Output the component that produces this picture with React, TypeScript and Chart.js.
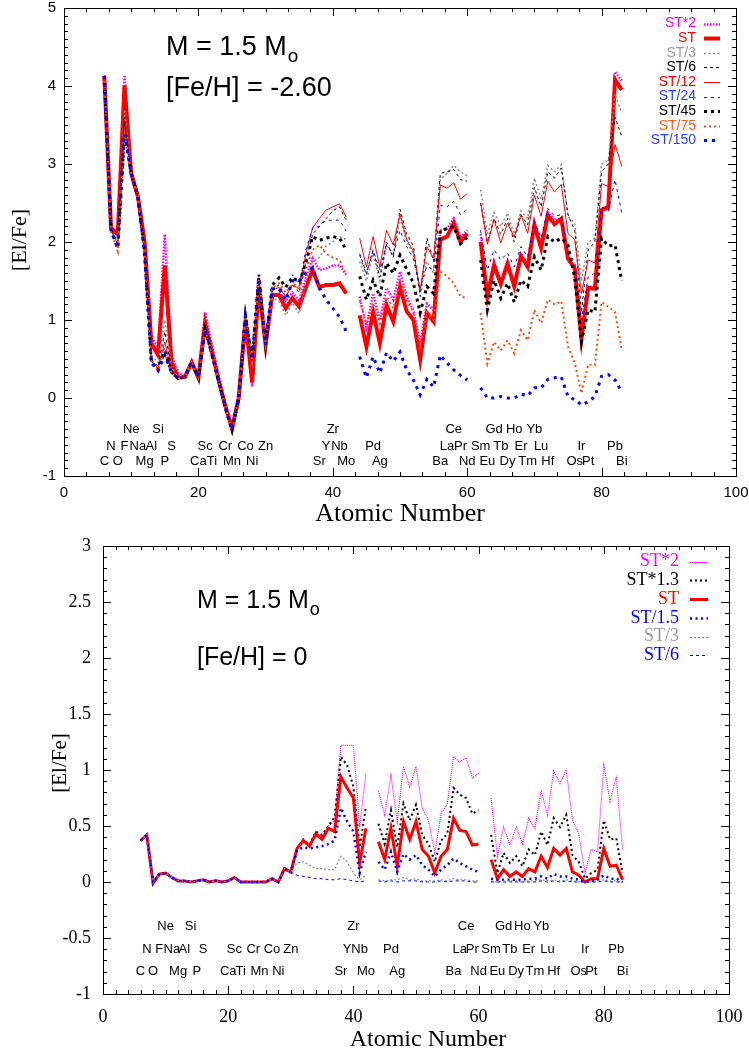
import React, { useEffect, useRef } from 'react';
import { Chart, registerables } from 'chart.js';
Chart.register(...registerables);

const SANS = '"Liberation Sans", Arial, Helvetica, sans-serif';
const SERIF = '"Liberation Serif", "Times New Roman", Times, serif';

// Atomic numbers 6 (C) .. 83 (Bi); 43 (Tc) and 61 (Pm) are gaps (null)
const atomicNumbers = [
  6, 7, 8, 9, 10, 11, 12, 13, 14, 15, 16, 17, 18, 19, 20, 21, 22, 23, 24, 25, 26, 27, 28, 29, 30,
  31, 32, 33, 34, 35, 36, 37, 38, 39, 40, 41, 42, 43,
  44, 45, 46, 47, 48, 49, 50, 51, 52, 53, 54, 55, 56, 57, 58, 59, 60, 61,
  62, 63, 64, 65, 66, 67, 68, 69, 70, 71, 72, 73, 74, 75, 76, 77, 78, 79, 80, 81, 82, 83,
];

// ---------- Top panel: [Fe/H] = -2.60 ----------
const topST2 = [
  4.13, 2.18, 2.08, 4.14, 2.88, 2.58, 2.02, 0.78, 0.65, 2.10, 0.55, 0.33, 0.28, 0.46, 0.30, 1.10, 0.68, 0.30, -0.08, -0.38, 0.00, 1.00, 0.15, 1.40, 0.70,
  1.30, 1.33, 1.25, 1.35, 1.25, 1.55, 1.79, 1.64, 1.66, 1.70, 1.70, 1.58, null,
  1.30, 0.91, 1.34, 1.00, 1.41, 1.26, 1.62, 1.30, 1.12, 0.70, 1.21, 1.13, 2.15, 2.17, 2.30, 2.06, 2.15, null,
  2.10, 1.35, 1.75, 1.50, 1.75, 1.47, 1.85, 1.70, 2.25, 1.95, 2.38, 2.28, 2.30, 1.80, 1.66, 0.80, 1.43, 1.42, 2.42, 2.42, 4.18, 4.07,
];
const topST = [
  4.13, 2.18, 2.10, 4.01, 2.88, 2.58, 2.00, 0.70, 0.55, 1.70, 0.45, 0.26, 0.27, 0.46, 0.26, 0.96, 0.60, 0.23, -0.10, -0.39, 0.00, 1.00, 0.20, 1.42, 0.68,
  1.32, 1.32, 1.15, 1.28, 1.17, 1.42, 1.64, 1.42, 1.45, 1.45, 1.47, 1.34, null,
  1.06, 0.66, 1.10, 0.70, 1.19, 0.98, 1.42, 1.11, 1.00, 0.49, 1.09, 0.98, 2.03, 2.07, 2.24, 2.00, 2.11, null,
  2.00, 1.30, 1.70, 1.46, 1.72, 1.43, 1.82, 1.68, 2.22, 1.92, 2.34, 2.23, 2.30, 1.79, 1.66, 0.76, 1.41, 1.40, 2.41, 2.45, 4.08, 3.95,
];
const topST3 = [
  4.13, 2.16, 2.00, 3.70, 2.88, 2.58, 1.95, 0.55, 0.45, 1.00, 0.40, 0.26, 0.27, 0.46, 0.26, 0.92, 0.58, 0.22, -0.12, -0.40, 0.00, 1.02, 0.45, 1.48, 0.68,
  1.28, 1.24, 1.06, 1.22, 1.08, 1.50, 1.75, 1.80, 1.95, 2.00, 2.07, 2.03, null,
  1.75, 1.50, 1.85, 1.50, 1.95, 1.85, 2.30, 2.00, 1.85, 1.35, 1.75, 1.60, 2.80, 2.88, 2.98, 2.90, 2.85, null,
  2.67, 2.10, 2.38, 2.20, 2.37, 2.10, 2.40, 2.30, 2.82, 2.55, 2.98, 2.90, 2.99, 2.33, 2.24, 1.50, 2.00, 2.05, 3.00, 3.05, 3.90, 3.65,
];
const topST6 = [
  4.13, 2.16, 1.98, 3.60, 2.88, 2.58, 1.92, 0.50, 0.40, 0.85, 0.37, 0.25, 0.27, 0.46, 0.26, 0.90, 0.57, 0.22, -0.12, -0.40, 0.00, 1.03, 0.47, 1.50, 0.68,
  1.40, 1.45, 1.30, 1.45, 1.35, 1.75, 2.10, 2.20, 2.30, 2.40, 2.45, 2.28, null,
  1.85, 1.60, 1.90, 1.55, 2.00, 1.80, 2.42, 2.10, 1.95, 1.30, 2.05, 1.75, 2.88, 2.90, 2.93, 2.80, 2.78, null,
  2.50, 2.00, 2.30, 2.10, 2.30, 2.00, 2.35, 2.22, 2.70, 2.45, 2.90, 2.82, 2.95, 2.35, 2.15, 1.10, 1.90, 2.00, 2.90, 3.00, 3.60, 3.35,
];
const topST12 = [
  4.13, 2.15, 1.97, 3.55, 2.88, 2.58, 1.90, 0.48, 0.38, 0.72, 0.35, 0.25, 0.27, 0.46, 0.26, 0.89, 0.57, 0.22, -0.12, -0.40, 0.00, 1.04, 0.48, 1.52, 0.68,
  1.38, 1.42, 1.30, 1.45, 1.40, 1.85, 2.18, 2.30, 2.41, 2.45, 2.49, 2.32, null,
  2.05, 1.68, 2.07, 1.68, 2.15, 1.96, 2.36, 2.03, 1.88, 1.38, 1.94, 1.79, 2.73, 2.69, 2.76, 2.55, 2.62, null,
  2.50, 1.97, 2.29, 1.99, 2.24, 2.06, 2.35, 2.11, 2.60, 2.33, 2.78, 2.64, 2.74, 2.11, 2.03, 1.34, 1.77, 1.73, 2.75, 2.71, 3.25, 2.97,
];
const topST24 = [
  4.13, 2.15, 1.95, 3.50, 2.88, 2.58, 1.88, 0.47, 0.37, 0.65, 0.34, 0.25, 0.27, 0.46, 0.26, 0.89, 0.57, 0.22, -0.12, -0.40, 0.00, 1.04, 0.48, 1.53, 0.68,
  1.40, 1.40, 1.23, 1.58, 1.45, 1.90, 2.18, 2.20, 2.28, 2.28, 2.28, 2.14, null,
  1.83, 1.58, 1.89, 1.64, 1.97, 1.84, 2.15, 1.94, 1.78, 1.41, 1.69, 1.64, 2.47, 2.45, 2.52, 2.35, 2.42, null,
  2.15, 1.64, 1.90, 1.77, 1.86, 1.68, 1.94, 1.81, 2.27, 2.05, 2.43, 2.33, 2.35, 1.85, 1.75, 1.00, 1.55, 1.60, 2.45, 2.40, 2.80, 2.37,
];
const topST45 = [
  4.13, 2.15, 1.93, 3.42, 2.88, 2.58, 1.86, 0.46, 0.36, 0.60, 0.33, 0.25, 0.27, 0.46, 0.26, 0.88, 0.56, 0.22, -0.12, -0.41, 0.00, 1.05, 0.49, 1.55, 0.68,
  1.45, 1.54, 1.42, 1.55, 1.48, 1.73, 2.07, 2.02, 2.05, 2.07, 2.05, 1.90, null,
  1.56, 1.26, 1.51, 1.30, 1.73, 1.60, 1.83, 1.65, 1.47, 1.09, 1.43, 1.34, 2.15, 2.17, 2.20, 1.98, 2.06, null,
  1.77, 1.13, 1.51, 1.28, 1.47, 1.23, 1.51, 1.43, 1.81, 1.64, 2.07, 2.00, 2.05, 1.96, 1.54, 0.72, 1.13, 1.10, 2.05, 1.95, 1.96, 1.50,
];
const topST75 = [
  4.13, 2.14, 1.88, 3.40, 2.88, 2.58, 1.85, 0.45, 0.35, 0.57, 0.33, 0.25, 0.27, 0.46, 0.26, 0.88, 0.56, 0.22, -0.12, -0.41, 0.00, 1.05, 0.49, 1.56, 0.68,
  1.42, 1.47, 1.35, 1.46, 1.43, 1.65, 1.90, 1.96, 1.85, 1.80, 1.77, 1.58, null,
  1.25, 0.95, 1.20, 0.95, 1.30, 1.15, 1.50, 1.25, 1.10, 0.65, 1.10, 1.00, 1.62, 1.56, 1.47, 1.30, 1.28, null,
  1.09, 0.44, 0.72, 0.61, 0.74, 0.57, 0.87, 0.74, 1.13, 0.96, 1.26, 1.20, 1.24, 0.66, 0.45, 0.06, 0.43, 0.42, 1.23, 1.17, 1.10, 0.62,
];
const topST150 = [
  4.13, 2.14, 1.92, 3.38, 2.88, 2.58, 1.84, 0.45, 0.35, 0.55, 0.33, 0.25, 0.27, 0.46, 0.26, 0.88, 0.56, 0.22, -0.12, -0.41, 0.00, 1.05, 0.50, 1.58, 0.68,
  1.40, 1.40, 1.25, 1.50, 1.50, 1.60, 1.67, 1.41, 1.26, 1.15, 1.04, 0.85, null,
  0.53, 0.26, 0.53, 0.32, 0.58, 0.47, 0.59, 0.36, 0.23, 0.04, 0.24, 0.14, 0.55, 0.45, 0.36, 0.29, 0.23, null,
  0.13, 0.00, 0.00, 0.02, 0.00, 0.00, 0.05, 0.03, 0.13, 0.13, 0.24, 0.26, 0.27, 0.02, -0.02, -0.09, -0.05, 0.02, 0.28, 0.30, 0.23, 0.08,
];
const topSeriesNames = ['ST*2', 'ST', 'ST/3', 'ST/6', 'ST/12', 'ST/24', 'ST/45', 'ST/75', 'ST/150'];
const topSeriesValues = [topST2, topST, topST3, topST6, topST12, topST24, topST45, topST75, topST150];
const topXTicks = [0, 20, 40, 60, 80, 100];
const topYTicks = [-1, 0, 1, 2, 3, 4, 5];

// ---------- Bottom panel: [Fe/H] = 0 ----------
const bottomLight = [
  0.37, 0.42, -0.01, 0.07, 0.08, 0.04, 0.01, 0.01, 0.00, 0.01, 0.02, 0.00, 0.01, 0.00, 0.01, 0.04, 0.00, 0.00, 0.00, 0.00, 0.00, 0.03, 0.00, 0.12, 0.09,
];
const botST2 = [
  ...bottomLight,
  0.30, 0.38, 0.33, 0.45, 0.40, 0.50, 0.55, 1.22, 1.22, 1.22, 0.49, 0.97, null,
  0.81, 0.60, 0.95, 0.54, 1.03, 0.85, 1.03, 0.66, 0.55, 0.26, 0.61, 0.70, 1.12, 1.07, 1.11, 0.93, 0.97, null,
  0.75, 0.23, 0.49, 0.33, 0.49, 0.34, 0.57, 0.48, 0.82, 0.60, 0.99, 0.88, 1.00, 0.55, 0.43, 0.08, 0.29, 0.27, 1.04, 0.72, 0.94, 0.29,
];
const botST13 = [
  ...bottomLight,
  0.30, 0.38, 0.33, 0.45, 0.42, 0.50, 0.58, 1.12, 1.04, 0.85, 0.31, 0.67, null,
  0.52, 0.34, 0.64, 0.31, 0.70, 0.55, 0.69, 0.42, 0.34, 0.18, 0.37, 0.43, 0.84, 0.78, 0.75, 0.61, 0.64, null,
  0.42, 0.08, 0.26, 0.17, 0.23, 0.14, 0.29, 0.24, 0.45, 0.33, 0.57, 0.49, 0.60, 0.24, 0.18, 0.03, 0.08, 0.11, 0.55, 0.38, 0.39, 0.08,
];
const botST = [
  ...bottomLight,
  0.30, 0.37, 0.32, 0.43, 0.38, 0.48, 0.45, 0.94, 0.84, 0.75, 0.17, 0.48, null,
  0.36, 0.20, 0.48, 0.14, 0.54, 0.38, 0.54, 0.29, 0.23, 0.08, 0.23, 0.29, 0.57, 0.46, 0.45, 0.33, 0.34, null,
  0.20, 0.03, 0.11, 0.05, 0.09, 0.05, 0.12, 0.09, 0.23, 0.13, 0.30, 0.24, 0.30, 0.09, 0.06, 0.00, 0.03, 0.03, 0.30, 0.14, 0.15, 0.02,
];
const botST15 = [
  ...bottomLight,
  0.28, 0.31, 0.30, 0.31, 0.32, 0.34, 0.37, 0.66, 0.54, 0.45, 0.08, 0.27, null,
  0.18, 0.11, 0.27, 0.09, 0.25, 0.20, 0.24, 0.15, 0.11, 0.05, 0.11, 0.15, 0.21, 0.17, 0.14, 0.11, 0.09, null,
  0.03, 0.02, 0.02, 0.02, 0.02, 0.02, 0.03, 0.03, 0.05, 0.03, 0.07, 0.05, 0.05, 0.03, 0.02, 0.00, 0.01, 0.02, 0.06, 0.03, 0.03, 0.00,
];
const botST3 = [
  ...bottomLight,
  0.17, 0.18, 0.15, 0.12, 0.12, 0.11, 0.11, 0.23, 0.18, 0.08, 0.02, 0.06, null,
  0.02, 0.01, 0.02, 0.02, 0.04, 0.02, 0.03, 0.01, 0.01, 0.01, 0.02, 0.01, 0.03, 0.02, 0.02, 0.01, 0.01, null,
  0.01, 0.00, 0.01, 0.01, 0.01, 0.00, 0.01, 0.01, 0.02, 0.01, 0.02, 0.01, 0.02, 0.01, 0.00, 0.00, 0.00, 0.01, 0.02, 0.01, 0.01, 0.00,
];
const botST6 = [
  ...bottomLight,
  0.06, 0.05, 0.04, 0.03, 0.03, 0.02, 0.02, 0.03, 0.02, 0.01, 0.00, 0.01, null,
  0.01, 0.00, 0.01, 0.00, 0.01, 0.01, 0.01, 0.00, 0.00, 0.00, 0.01, 0.00, 0.01, 0.01, 0.01, 0.00, 0.00, null,
  0.00, 0.00, 0.00, 0.00, 0.00, 0.00, 0.00, 0.00, 0.01, 0.00, 0.01, 0.00, 0.01, 0.00, 0.00, 0.00, 0.00, 0.00, 0.01, 0.00, 0.00, 0.00,
];
const botSeriesNames = ['ST*2', 'ST*1.3', 'ST', 'ST/1.5', 'ST/3', 'ST/6'];
const botSeriesValues = [botST2, botST13, botST, botST15, botST3, botST6];
const botXTicks = [0, 20, 40, 60, 80, 100];
const botYTicks = [-1, -0.5, 0, 0.5, 1, 1.5, 2, 2.5, 3];

// element labels: [symbol, Z, row]
const elementLabels: [string, number, number][] = [
  ['Ne', 10, 0], ['Si', 14, 0], ['Zr', 40, 0], ['Ce', 58, 0], ['Gd', 64, 0], ['Ho', 67, 0], ['Yb', 70, 0],
  ['N', 7, 1], ['F', 9, 1], ['Na', 11, 1], ['Al', 13, 1], ['S', 16, 1], ['Sc', 21, 1], ['Cr', 24, 1], ['Co', 27, 1],
  ['Zn', 30, 1], ['Y', 39, 1], ['Nb', 41, 1], ['Pd', 46, 1], ['La', 57, 1], ['Pr', 59, 1], ['Sm', 62, 1], ['Tb', 65, 1],
  ['Er', 68, 1], ['Lu', 71, 1], ['Ir', 77, 1], ['Pb', 82, 1],
  ['C', 6, 2], ['O', 8, 2], ['Mg', 12, 2], ['P', 15, 2], ['Ca', 20, 2], ['Ti', 22, 2], ['Mn', 25, 2], ['Ni', 28, 2],
  ['Sr', 38, 2], ['Mo', 42, 2], ['Ag', 47, 2], ['Ba', 56, 2], ['Nd', 60, 2], ['Eu', 63, 2], ['Dy', 66, 2], ['Tm', 69, 2],
  ['Hf', 72, 2], ['Os', 76, 2], ['Pt', 78, 2], ['Bi', 83, 2],
];

type Style = { color: string; width: number; dash: number[]; text?: string };

const topStyles: Style[] = [
  { color: '#ff00ff', width: 2.5, dash: [1.5, 1.5] },
  { color: '#ff0000', width: 4, dash: [] },
  { color: '#8a8a8a', width: 1.5, dash: [2, 2.5], text: '#999999' },
  { color: '#000000', width: 1, dash: [3, 3] },
  { color: '#ff0000', width: 1, dash: [] },
  { color: '#0000ff', width: 1, dash: [3, 4], text: '#2a3cff' },
  { color: '#000000', width: 3, dash: [3, 4] },
  { color: '#ff4a10', width: 2, dash: [2, 3], text: '#ff5a20' },
  { color: '#0000ff', width: 3, dash: [3, 5], text: '#2a3cff' },
];
const botStyles: Style[] = [
  { color: '#ff00ff', width: 1.2, dash: [1, 1] },
  { color: '#000000', width: 2, dash: [2, 3] },
  { color: '#ff0000', width: 3, dash: [] },
  { color: '#0000ff', width: 2.5, dash: [2, 3.5] },
  { color: '#8a8a8a', width: 1.2, dash: [2, 2], text: '#999999' },
  { color: '#0000ff', width: 1, dash: [3, 3] },
];

type Panel = {
  names: string[];
  values: (number | null)[][];
  styles: Style[];
  xTicks: number[];
  yTicks: number[];
  yMin: number;
  yMax: number;
  height: number;
  padTop: number;
  padRight: number;
  yAxisWidth: number;
  xAxisHeight: number;
  tickFont: { family: string; size: number };
  xPad: number;
  yPad: number;
  xMinorStep: number;
  yMinorStep: number;
  labelFont: string;
  labelRows: number[];
  legend: { textRight: number; lineX1: number; lineX2: number; y0: number; dy: number; font: string };
  annot: { x: number; y1: number; y2: number; font: string; subFont: string; subDx: number; subDy: number; feh: string };
  xTitle: { x: number; y: number; font: string };
  yTitle: { x: number; y: number; font: string };
};

const topPanel: Panel = {
  names: topSeriesNames,
  values: topSeriesValues,
  styles: topStyles,
  xTicks: topXTicks,
  yTicks: topYTicks,
  yMin: -1,
  yMax: 5,
  height: 528,
  padTop: 8,
  padRight: 13,
  yAxisWidth: 64,
  xAxisHeight: 52,
  tickFont: { family: SANS, size: 15 },
  xPad: 8,
  yPad: 8,
  xMinorStep: 20 / 6,
  yMinorStep: 0.1,
  labelFont: `13px ${SANS}`,
  labelRows: [-0.45, -0.67, -0.86],
  legend: { textRight: 696, lineX1: 704, lineX2: 720, y0: 23.5, dy: 14.6, font: `14px ${SANS}` },
  annot: { x: 166, y1: 55, y2: 96, font: `27px ${SANS}`, subFont: `19px ${SANS}`, subDx: 1, subDy: 7, feh: '[Fe/H] = -2.60' },
  xTitle: { x: 400, y: 514, font: `26px ${SERIF}` },
  yTitle: { x: 20, y: 240, font: `22px ${SERIF}` },
};

const botPanel: Panel = {
  names: botSeriesNames,
  values: botSeriesValues,
  styles: botStyles,
  xTicks: botXTicks,
  yTicks: botYTicks,
  yMin: -1,
  yMax: 3,
  height: 527,
  padTop: 18,
  padRight: 20,
  yAxisWidth: 103,
  xAxisHeight: 61,
  tickFont: { family: SERIF, size: 18 },
  xPad: 12,
  yPad: 12,
  xMinorStep: 2,
  yMinorStep: 0.1,
  labelFont: `13px ${SANS}`,
  labelRows: [-0.43, -0.63, -0.83],
  legend: { textRight: 679, lineX1: 690, lineX2: 708, y0: 33.7, dy: 18.7, font: `18px ${SERIF}` },
  annot: { x: 197, y1: 80, y2: 137, font: `25px ${SANS}`, subFont: `18px ${SANS}`, subDx: 1, subDy: 7, feh: '[Fe/H] = 0' },
  xTitle: { x: 428, y: 512, font: `24px ${SERIF}` },
  yTitle: { x: 60, y: 235, font: `21px ${SERIF}` },
};

function makeConfig(p: Panel): any {
  const n = p.values.length;
  const datasets = p.values.map((vals, i) => ({
    label: p.names[i],
    data: atomicNumbers.map((z, k) => ({ x: z, y: vals[k] })),
    borderColor: p.styles[i].color,
    backgroundColor: p.styles[i].color,
    borderWidth: p.styles[i].width,
    borderDash: p.styles[i].dash,
    borderCapStyle: 'butt',
    borderJoinStyle: 'miter',
    pointRadius: 0,
    pointHoverRadius: 0,
    tension: 0,
    spanGaps: false,
    fill: false,
    order: n - 1 - i,
  }));

  const framePlugin = {
    id: 'frame',
    afterDraw(chart: any) {
      const ctx = chart.ctx as CanvasRenderingContext2D;
      const a = chart.chartArea;
      const xs = chart.scales.x;
      const ys = chart.scales.y;
      ctx.save();
      // box
      ctx.strokeStyle = '#000';
      ctx.lineWidth = 1;
      ctx.setLineDash([]);
      ctx.strokeRect(Math.round(a.left) + 0.5, Math.round(a.top) + 0.5, Math.round(a.right - a.left), Math.round(a.bottom - a.top));
      // ticks
      ctx.beginPath();
      const majX = 20;
      for (let v = 0; v <= 100 + 1e-6; v += p.xMinorStep) {
        const isMaj = Math.abs(v / majX - Math.round(v / majX)) < 1e-6;
        const L = isMaj ? 8 : 4;
        const x = Math.round(xs.getPixelForValue(v)) + 0.5;
        ctx.moveTo(x, a.bottom); ctx.lineTo(x, a.bottom - L);
        ctx.moveTo(x, a.top); ctx.lineTo(x, a.top + L);
      }
      const majY = p.yTicks[1] - p.yTicks[0];
      for (let v = p.yMin; v <= p.yMax + 1e-6; v += p.yMinorStep) {
        const isMaj = Math.abs((v - p.yMin) / majY - Math.round((v - p.yMin) / majY)) < 1e-6;
        const L = isMaj ? 8 : 4;
        const y = Math.round(ys.getPixelForValue(v)) + 0.5;
        ctx.moveTo(a.left, y); ctx.lineTo(a.left + L, y);
        ctx.moveTo(a.right, y); ctx.lineTo(a.right - L, y);
      }
      ctx.stroke();

      // element labels
      ctx.fillStyle = '#000';
      ctx.font = p.labelFont;
      ctx.textAlign = 'center';
      ctx.textBaseline = 'alphabetic';
      for (const [sym, z, row] of elementLabels) {
        ctx.fillText(sym, xs.getPixelForValue(z), ys.getPixelForValue(p.labelRows[row]));
      }

      // annotations
      ctx.textAlign = 'left';
      ctx.font = p.annot.font;
      const mText = 'M = 1.5 M';
      ctx.fillText(mText, p.annot.x, p.annot.y1);
      const w = ctx.measureText(mText).width;
      ctx.font = p.annot.subFont;
      ctx.fillText('o', p.annot.x + w + p.annot.subDx, p.annot.y1 + p.annot.subDy);
      ctx.font = p.annot.font;
      ctx.fillText(p.annot.feh, p.annot.x, p.annot.y2);

      // legend
      ctx.font = p.legend.font;
      ctx.textBaseline = 'middle';
      p.names.forEach((name, i) => {
        const st = p.styles[i];
        const y = p.legend.y0 + i * p.legend.dy;
        ctx.textAlign = 'right';
        ctx.fillStyle = st.text || st.color;
        ctx.fillText(name, p.legend.textRight, y);
        ctx.beginPath();
        ctx.strokeStyle = st.color;
        ctx.lineWidth = st.width;
        ctx.setLineDash(st.dash);
        ctx.lineCap = 'butt';
        ctx.moveTo(p.legend.lineX1, Math.round(y) + 0.5);
        ctx.lineTo(p.legend.lineX2, Math.round(y) + 0.5);
        ctx.stroke();
      });
      ctx.setLineDash([]);

      // axis titles
      ctx.fillStyle = '#000';
      ctx.textAlign = 'center';
      ctx.textBaseline = 'middle';
      ctx.font = p.xTitle.font;
      ctx.fillText('Atomic Number', p.xTitle.x, p.xTitle.y);
      ctx.save();
      ctx.translate(p.yTitle.x, p.yTitle.y);
      ctx.rotate(-Math.PI / 2);
      ctx.font = p.yTitle.font;
      ctx.fillText('[El/Fe]', 0, 0);
      ctx.restore();
      ctx.restore();
    },
  };

  return {
    type: 'line',
    data: { datasets },
    plugins: [framePlugin],
    options: {
      responsive: false,
      maintainAspectRatio: false,
      animation: false,
      events: [],
      layout: { padding: { top: p.padTop, right: p.padRight, left: 0, bottom: 0 } },
      plugins: { legend: { display: false }, tooltip: { enabled: false }, title: { display: false } },
      scales: {
        x: {
          type: 'linear',
          min: 0,
          max: 100,
          afterBuildTicks: (s: any) => { s.ticks = p.xTicks.map((v) => ({ value: v })); },
          afterFit: (s: any) => { s.height = p.xAxisHeight; s.paddingLeft = 0; s.paddingRight = 0; },
          grid: { display: false, drawTicks: false },
          border: { display: false },
          ticks: { font: p.tickFont, color: '#000', padding: p.xPad, maxRotation: 0, autoSkip: false, callback: (v: any) => String(v) },
        },
        y: {
          type: 'linear',
          min: p.yMin,
          max: p.yMax,
          afterBuildTicks: (s: any) => { s.ticks = p.yTicks.map((v) => ({ value: v })); },
          afterFit: (s: any) => { s.width = p.yAxisWidth; s.paddingTop = 0; s.paddingBottom = 0; },
          grid: { display: false, drawTicks: false },
          border: { display: false },
          ticks: { font: p.tickFont, color: '#000', padding: p.yPad, autoSkip: false, callback: (v: any) => String(v) },
        },
      },
    },
  };
}

export default function App() {
  const topRef = useRef<HTMLCanvasElement>(null);
  const botRef = useRef<HTMLCanvasElement>(null);
  useEffect(() => {
    const c1 = new Chart(topRef.current as HTMLCanvasElement, makeConfig(topPanel));
    const c2 = new Chart(botRef.current as HTMLCanvasElement, makeConfig(botPanel));
    return () => {
      c1.destroy();
      c2.destroy();
    };
  }, []);
  return (
    <div style={{ position: 'absolute', left: 0, top: 0, width: 749, height: 1055, background: '#fff' }}>
      <canvas ref={topRef} width={749} height={528} style={{ position: 'absolute', left: 0, top: 0, width: 749, height: 528 }} />
      <canvas ref={botRef} width={749} height={527} style={{ position: 'absolute', left: 0, top: 528, width: 749, height: 527 }} />
    </div>
  );
}
